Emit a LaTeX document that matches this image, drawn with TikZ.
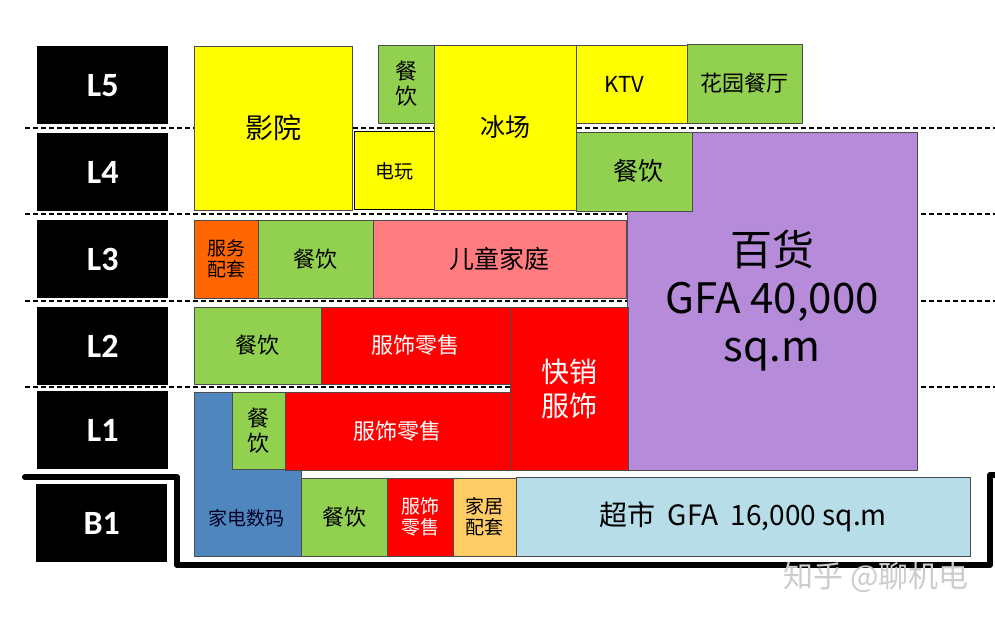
\documentclass[tikz,border=0pt]{standalone}
\usepackage{fontspec}
\setmainfont{Noto Sans CJK SC}
\newfontfamily\levelfont{Carlito}
\usetikzlibrary{backgrounds}

\definecolor{ryellow}{HTML}{FFFF00}
\definecolor{rgreen}{HTML}{92D050}
\definecolor{rpurple}{HTML}{B58BDA}
\definecolor{rpink}{HTML}{FF7C80}
\definecolor{rred}{HTML}{FF0000}
\definecolor{rorange}{HTML}{FF6600}
\definecolor{rsand}{HTML}{FFCC66}
\definecolor{rsky}{HTML}{B7DDE8}
\definecolor{rblue}{HTML}{4F86BD}

\begin{document}
\begin{tikzpicture}[x=1pt,y=-1pt,
  room/.style={draw=black!70,line width=0.7pt,anchor=north west,
    inner sep=0pt,outer sep=0pt,align=center},
  level/.style={fill=black,text=white,anchor=north west,inner sep=0pt,
    minimum width=131pt,minimum height=78pt,
    font=\levelfont\bfseries\fontsize{34}{36}\selectfont},
  floorline/.style={line width=1.3pt,dash pattern=on 5pt off 3pt},
  f19/.style={font=\fontsize{19}{21}\selectfont},
  f22/.style={font=\fontsize{22}{25}\selectfont},
  f25/.style={font=\fontsize{25}{28}\selectfont},
  f28/.style={font=\fontsize{28}{34}\selectfont},
  f42/.style={font=\fontsize{42}{48}\selectfont}]

  \useasboundingbox (0,0) rectangle (995,620);

  % floor levels
  \node[level] (l5) at (37,46) {L5};
  \node[level] (l4) at (37,133) {L4};
  \node[level] (l3) at (37,220) {L3};
  \node[level] (l2) at (37,307) {L2};
  \node[level] (l1) at (37,391) {L1};
  \node[level] (b1) at (36,484) {B1};

  \draw[floorline] (25,128) -- (995,128);
  \draw[floorline] (25,214) -- (995,214);
  \draw[floorline] (25,301) -- (995,301);
  \draw[floorline] (25,387) -- (995,387);

  % department store
  \node[room,fill=rpurple,minimum width=290pt,minimum height=338pt,f42] (dept) at (627,132) {百货\\GFA 40,000\\sq.m};

  % L5 / L4
  \node[room,fill=ryellow,minimum width=158pt,minimum height=164pt,f28] (cinema) at (194,46) {影院};
  \node[room,fill=rgreen,minimum width=56pt,minimum height=78pt,f22] (dine5) at (378,45) {餐\\饮};
  \node[room,fill=ryellow,draw=black,line width=1pt,minimum width=80pt,minimum height=78pt,f19] (arcade) at (354,132) {电玩};
  \node[room,fill=ryellow,minimum width=142pt,minimum height=165pt,f25] (rink) at (434,45) {冰场};
  \node[room,fill=ryellow,minimum width=111pt,minimum height=78pt,f22] (ktv) at (576,45) {KTV\hspace{14pt}};
  \node[room,fill=rgreen,minimum width=115pt,minimum height=79pt,f22] (garden) at (687,44) {花园餐厅};
  \node[room,fill=rgreen,minimum width=116pt,minimum height=79pt,f25] (dine4) at (576,132) {\hspace{8pt}餐饮};

  % L3
  \node[room,fill=rorange,minimum width=64pt,minimum height=78pt,f19] (service) at (194,220) {服务\\配套};
  \node[room,fill=rgreen,minimum width=115pt,minimum height=78pt,f22] (dine3) at (258,220) {餐饮};
  \node[room,fill=rpink,minimum width=253pt,minimum height=78pt,f25] (kids) at (373,220) {儿童家庭};

  % L2
  \node[room,fill=rgreen,minimum width=127pt,minimum height=77pt,f22] (dine2) at (194,307) {餐饮};
  \node[room,fill=rred,text=white,minimum width=189pt,minimum height=77pt,f22] (fashion2) at (321,307) {服饰零售};
  \node[room,fill=rred,text=white,minimum width=118pt,minimum height=163pt,f28] (fastfashion) at (510,307) {快销\\服饰};

  % L1
  \draw[draw=black!70,line width=0.7pt,fill=rblue]
    (194,392) -- (232,392) -- (232,469) -- (301,469) -- (301,556) -- (194,556) -- cycle;
  \node[text=black!85!blue,f19] (digital) at (246,518) {家电数码};
  \node[room,fill=rgreen,minimum width=53pt,minimum height=77pt,f22] (dine1) at (232,392) {餐\\饮};
  \node[room,fill=rred,text=white,minimum width=225pt,minimum height=78pt,f22] (fashion1) at (285,392) {服饰零售};

  % B1
  \node[room,fill=rgreen,minimum width=86pt,minimum height=78pt,f22] (dineb) at (301,478) {餐饮};
  \node[room,fill=rred,text=white,minimum width=66pt,minimum height=78pt,f19] (fashionb) at (387,478) {服饰\\零售};
  \node[room,fill=rsand,minimum width=63pt,minimum height=78pt,f19] (home) at (453,478) {家居\\配套};
  \node[room,fill=rsky,minimum width=454pt,minimum height=79pt,f28] (market) at (516,477) {超市\ \ GFA\ \ 16,000 sq.m};

  % basement outline
  \draw[line width=6pt,line cap=round,line join=round]
    (25,477) -- (177,477) -- (177,565) -- (990,565) -- (990,475) -- (1000,475);

  \node[text=black!20,font=\fontsize{30}{34}\selectfont] (mark) at (876,577) {知乎 @聊机电};

\end{tikzpicture}
\end{document}
